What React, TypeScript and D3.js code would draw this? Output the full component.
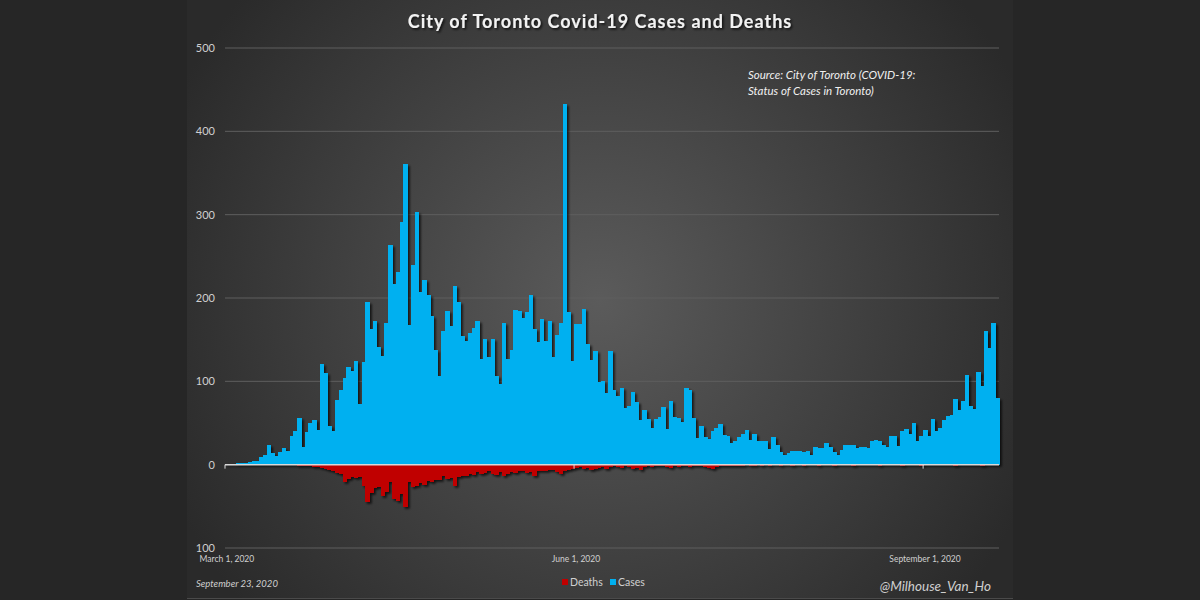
import React, { useEffect, useRef } from 'react';
import * as d3 from 'd3';

// Daily values, one per day starting March 1, 2020
const startDate = '2020-03-01';

const cases = [
  1, 1, 1, 2, 2, 2, 3, 5, 4, 9,
  12, 24, 14, 10, 15, 20, 17, 35, 41, 56,
  21, 39, 50, 54, 42, 121, 110, 46, 40, 78,
  90, 104, 117, 113, 125, 73, 123, 195, 163, 173,
  141, 131, 170, 264, 217, 231, 291, 361, 168, 240,
  303, 207, 222, 204, 179, 138, 106, 161, 185, 166,
  215, 195, 154, 148, 158, 164, 173, 127, 151, 129,
  151, 106, 97, 170, 127, 138, 186, 184, 176, 183,
  204, 163, 147, 175, 149, 173, 129, 156, 170, 433,
  183, 124, 169, 169, 187, 145, 126, 137, 99, 100,
  86, 136, 90, 82, 92, 68, 70, 87, 75, 54,
  66, 55, 44, 55, 57, 69, 43, 76, 57, 56,
  51, 92, 90, 56, 32, 47, 33, 31, 40, 44,
  49, 36, 34, 26, 29, 33, 37, 42, 30, 37,
  29, 29, 29, 19, 33, 24, 15, 12, 14, 17,
  17, 17, 15, 16, 12, 21, 20, 20, 26, 21,
  15, 12, 18, 24, 24, 24, 20, 21, 21, 20,
  28, 30, 29, 24, 21, 34, 34, 23, 40, 43,
  37, 50, 29, 35, 42, 35, 55, 41, 44, 54,
  59, 60, 79, 66, 77, 108, 70, 67, 111, 95,
  160, 140, 170, 80,
];

const deaths = [
  0, 0, 0, 0, 0, 0, 0, 0, 0, 0,
  0, 0, 0, 0, 0, 0, 0, 0, 0, 1,
  1, 1, 2, 3, 3, 4, 5, 6, 8, 10,
  11, 21, 17, 15, 16, 15, 26, 45, 34, 28,
  27, 37, 33, 21, 41, 43, 35, 51, 21, 27,
  26, 22, 24, 19, 21, 18, 18, 14, 17, 16,
  25, 15, 14, 13, 11, 12, 9, 11, 10, 8,
  11, 12, 9, 14, 11, 9, 10, 7, 8, 10,
  9, 13, 8, 7, 8, 6, 6, 9, 11, 8,
  6, 5, 4, 3, 5, 4, 6, 5, 4, 3,
  5, 3, 2, 3, 4, 2, 3, 5, 4, 6,
  3, 2, 3, 2, 1, 2, 3, 4, 2, 3,
  1, 2, 3, 2, 1, 2, 3, 4, 5, 3,
  2, 1, 2, 1, 1, 2, 1, 0, 1, 1,
  0, 1, 0, 1, 0, 0, 1, 0, 0, 1,
  0, 0, 1, 0, 0, 0, 1, 0, 0, 0,
  1, 0, 0, 0, 0, 1, 0, 0, 0, 0,
  0, 0, 1, 0, 0, 0, 0, 0, 1, 0,
  0, 0, 0, 1, 0, 0, 0, 0, 0, 0,
  0, 0, 1, 0, 0, 0, 0, 0, 0, 1,
  0, 0, 0, 0,
];

const yTicks = [-100, 0, 100, 200, 300, 400, 500];
const xTickDates = ['2020-03-01', '2020-06-01', '2020-09-01'];
const xTickLabels = ['March 1, 2020', 'June 1, 2020', 'September 1, 2020'];

const FONT = 'Lato, "Open Sans", sans-serif';

const App: React.FC = () => {
  const svgRef = useRef<SVGSVGElement>(null);

  useEffect(() => {
    if (!svgRef.current) return;
    const svg = d3.select(svgRef.current);
    svg.selectAll('*').remove();

    const width = 1200;
    const height = 600;
    const parse = d3.timeParse('%Y-%m-%d');
    const fmt = d3.timeFormat('%Y-%m-%d');
    const start = parse(startDate) as Date;
    const days = cases.map((_, i) => fmt(d3.timeDay.offset(start, i)));

    const x = d3.scaleBand<string>().domain(days).range([225, 999]).padding(0);
    const y = d3.scaleLinear().domain([-100, 500]).range([548, 48]);

    const defs = svg.append('defs');
    const grad = defs.append('radialGradient')
      .attr('id', 'bg')
      .attr('gradientUnits', 'userSpaceOnUse')
      .attr('cx', 600).attr('cy', 300).attr('r', 470);
    grad.append('stop').attr('offset', '0%').attr('stop-color', '#5b5b5b');
    grad.append('stop').attr('offset', '100%').attr('stop-color', '#2a2a2a');

    const shadow = defs.append('filter').attr('id', 'shadow')
      .attr('x', '-5%').attr('y', '-5%').attr('width', '110%').attr('height', '110%');
    shadow.append('feDropShadow')
      .attr('dx', 1.8).attr('dy', 1.8).attr('stdDeviation', 0.8)
      .attr('flood-color', '#000').attr('flood-opacity', 0.7);

    const tshadow = defs.append('filter').attr('id', 'tshadow');
    tshadow.append('feDropShadow')
      .attr('dx', 1.5).attr('dy', 1.5).attr('stdDeviation', 1)
      .attr('flood-color', '#000').attr('flood-opacity', 0.8);

    // backgrounds
    svg.append('rect').attr('width', width).attr('height', height).attr('fill', '#262626');
    svg.append('rect')
      .attr('x', 187).attr('y', 0).attr('width', 826).attr('height', 598)
      .attr('fill', 'url(#bg)');

    // gridlines
    svg.append('g')
      .selectAll('line')
      .data(yTicks.filter(d => d !== 0))
      .join('line')
      .attr('x1', 225).attr('x2', 999)
      .attr('y1', d => y(d)).attr('y2', d => y(d))
      .attr('stroke', '#5e5e5e').attr('stroke-width', 1);

    // y labels
    svg.append('g')
      .selectAll('text')
      .data(yTicks)
      .join('text')
      .attr('x', 215).attr('y', d => y(d))
      .attr('dy', '0.35em')
      .attr('text-anchor', 'end')
      .attr('font-family', FONT).attr('font-size', 11)
      .attr('fill', '#d0d0d0')
      .text(d => String(Math.abs(d)));

    // bars (no gaps between days, shared drop shadow)
    const bars = svg.append('g').attr('filter', 'url(#shadow)');
    bars.selectAll('rect.cases')
      .data(cases)
      .join('rect')
      .attr('class', 'cases')
      .attr('shape-rendering', 'crispEdges')
      .attr('x', (_, i) => x(days[i]) as number)
      .attr('width', x.bandwidth() + 0.7)
      .attr('y', d => y(d))
      .attr('height', d => y(0) - y(d))
      .attr('fill', '#00b0f0');
    bars.selectAll('rect.deaths')
      .data(deaths)
      .join('rect')
      .attr('class', 'deaths')
      .attr('shape-rendering', 'crispEdges')
      .attr('x', (_, i) => x(days[i]) as number)
      .attr('width', x.bandwidth() + 0.7)
      .attr('y', y(0))
      .attr('height', d => y(-d) - y(0))
      .attr('fill', '#c00000');

    // zero axis line and ticks
    svg.append('line')
      .attr('x1', 225).attr('x2', 999)
      .attr('y1', y(0)).attr('y2', y(0))
      .attr('stroke', '#d9d9d9').attr('stroke-width', 1.5);
    svg.append('g')
      .selectAll('line')
      .data(xTickDates)
      .join('line')
      .attr('x1', d => x(d) as number).attr('x2', d => x(d) as number)
      .attr('y1', y(0)).attr('y2', y(0) + 4)
      .attr('stroke', '#d9d9d9').attr('stroke-width', 1);

    // x labels
    svg.append('g')
      .selectAll('text')
      .data(xTickDates)
      .join('text')
      .attr('x', d => (x(d) as number) + x.bandwidth() / 2)
      .attr('y', 559)
      .attr('dy', '0.35em')
      .attr('text-anchor', 'middle')
      .attr('font-family', FONT).attr('font-size', 8.5)
      .attr('fill', '#d0d0d0')
      .text((_, i) => xTickLabels[i]);

    // title
    svg.append('text')
      .attr('x', 600).attr('y', 28)
      .attr('text-anchor', 'middle')
      .attr('font-family', FONT).attr('font-size', 18).attr('font-weight', 'bold')
      .attr('letter-spacing', 1)
      .attr('fill', '#f2f2f2')
      .attr('filter', 'url(#tshadow)')
      .text('City of Toronto Covid-19 Cases and Deaths');

    // source note
    const src = svg.append('text')
      .attr('font-family', FONT).attr('font-size', 11.5).attr('font-style', 'italic')
      .attr('fill', '#f0f0f0');
    src.append('tspan').attr('x', 748).attr('y', 79).text('Source: City of Toronto (COVID-19:');
    src.append('tspan').attr('x', 748).attr('y', 95).text('Status of Cases in Toronto)');

    // footer
    svg.append('text')
      .attr('x', 196).attr('y', 587)
      .attr('font-family', FONT).attr('font-size', 9.5).attr('font-style', 'italic')
      .attr('fill', '#cfcfcf')
      .text('September 23, 2020');

    svg.append('text')
      .attr('x', 991).attr('y', 591)
      .attr('text-anchor', 'end')
      .attr('font-family', FONT).attr('font-size', 13.5).attr('font-style', 'italic')
      .attr('fill', '#cfcfcf')
      .text('@Milhouse_Van_Ho');

    // legend
    const legendItems = [
      { label: 'Deaths', color: '#c00000', x: 562 },
      { label: 'Cases', color: '#00b0f0', x: 610 },
    ];
    const lg = svg.append('g');
    legendItems.forEach(item => {
      lg.append('rect')
        .attr('x', item.x).attr('y', 579).attr('width', 6).attr('height', 6)
        .attr('fill', item.color);
      lg.append('text')
        .attr('x', item.x + 8).attr('y', 582)
        .attr('dy', '0.35em')
        .attr('font-family', FONT).attr('font-size', 10.5)
        .attr('fill', '#d0d0d0')
        .text(item.label);
    });

    // bottom edge
    svg.append('line')
      .attr('x1', 187).attr('x2', 1013).attr('y1', 598.5).attr('y2', 598.5)
      .attr('stroke', '#4a4a4a').attr('stroke-width', 1);
  }, []);

  return (
    <svg
      ref={svgRef}
      width={1200}
      height={600}
      style={{ position: 'absolute', left: 0, top: 0, display: 'block' }}
    />
  );
};

export default App;
